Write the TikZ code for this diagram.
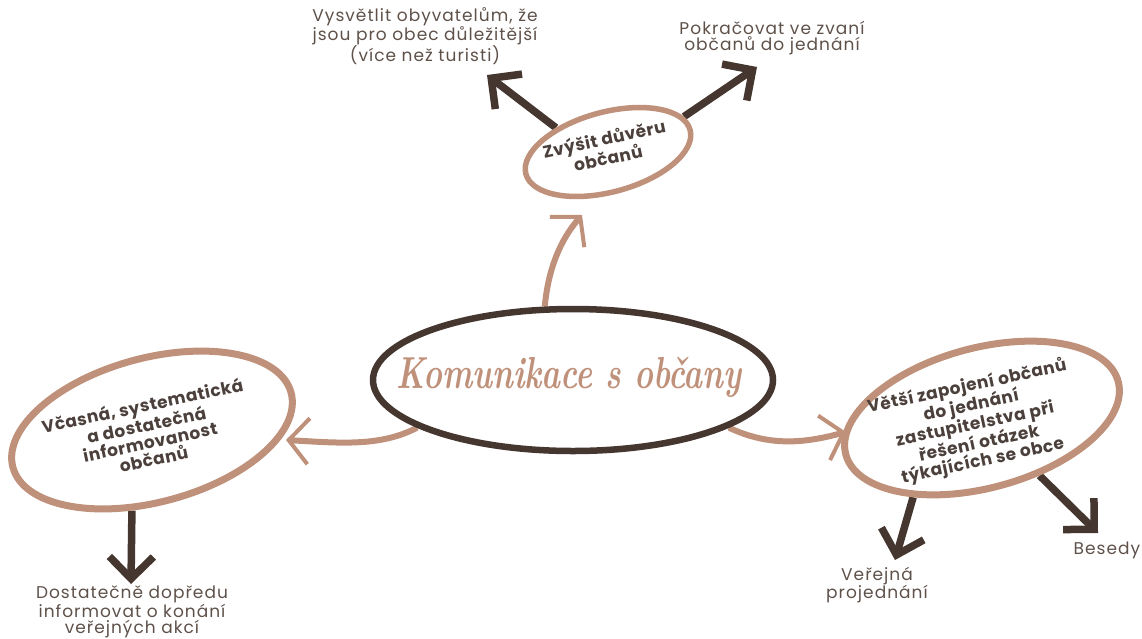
\documentclass[tikz,border=0pt]{standalone}
\usepackage{fontspec}
\newfontfamily\lab[LetterSpace=6]{Poppins}
\newfontfamily\labb[LetterSpace=3]{Poppins}
\usetikzlibrary{arrows.meta,shapes.geometric}
\definecolor{tan}{HTML}{C0917A}
\definecolor{dark}{HTML}{45372F}
\definecolor{lbl}{HTML}{5E514A}
\definecolor{boldtxt}{HTML}{4B403B}
\pgfdeclarelayer{bg}
\pgfsetlayers{bg,main}
\begin{document}
\begin{tikzpicture}[x=1pt,y=-1pt,
  ell/.style={ellipse, draw=tan, line width=7pt, inner sep=0pt},
  etext/.style={text=boldtxt, align=center, font=\labb\bfseries\fontsize{17}{17.5}\selectfont},
  label/.style={text=lbl, align=center, font=\lab\fontsize{17}{16.5}\selectfont},
  darrow/.style={draw=dark, line width=7.5pt, -{Straight Barb[length=22pt,width=44pt]}},
  tarrow/.style={draw=tan, line width=6pt, -{Straight Barb[length=20pt,width=46pt,line width=4pt]}}
]
\useasboundingbox (0,0) rectangle (1142,638);

% central ellipse
\node[ellipse, draw=dark, line width=6.5pt, minimum width=400pt, minimum height=142pt, inner sep=0pt] (C) at (573,380) {};
\node[text=tan, font=\fontsize{32}{32}\selectfont\bfseries\itshape, yscale=1.4] (CT) at (569,377) {Komunikace s občany};

% satellite ellipses
\node[ell, line width=5.5pt, rotate=15, minimum width=170pt, minimum height=80pt] (T) at (608,152) {};
\node[etext, rotate=12] (TT) at (606,148) {Zvýšit důvěru\\občanů};

\node[ell, rotate=15, minimum width=288pt, minimum height=144pt] (L) at (152,430) {};
\node[etext, rotate=12] (LT) at (148,432) {Včasná, systematická\\a dostatečná\\informovanost\\občanů};

\node[ell, rotate=15, minimum width=282pt, minimum height=140pt] (R) at (982,418) {};
\node[etext, rotate=12] (RT) at (975,424) {Větší zapojení občanů\\do jednání\\zastupitelstva při\\řešení otázek\\týkajících se obce};

% labels
\node[label] (V) at (425,36) {Vysvětlit obyvatelům, že\\jsou pro obec důležitější\\(více než turisti)};
\node[label] (P) at (772,38) {Pokračovat ve zvaní\\občanů do jednání};
\node[label] (D) at (132,612) {Dostatečně dopředu\\informovat o konání\\veřejných akcí};
\node[label] (VP) at (877,585) {Veřejná\\projednání};
\node[label] (B) at (1107,550) {Besedy};

% arrow tips
\coordinate (tTop) at (582,215);
\coordinate (tL) at (286,440);
\coordinate (tR) at (846,432);
\coordinate (aV) at (487,75);
\coordinate (aP) at (757,67);
\coordinate (aD) at (131,584);
\coordinate (aVP) at (895,560);
\coordinate (aB) at (1098,533);

\begin{pgfonlayer}{bg}
\draw[tarrow] (C.111) .. controls (548,270) and (560,240) .. (tTop);
\draw[tarrow] (C.197) .. controls (380,447) and (340,443) .. (tL);
\draw[tarrow] (C.-17) .. controls (770,447) and (805,443) .. (tR);
\draw[darrow] (T.140) -- (aV);
\draw[darrow] (T.10) -- (aP);
\draw[darrow] (L.-119) -- (aD);
\draw[darrow] (R.-146) -- (aVP);
\draw[darrow] (R.-60) -- (aB);
\end{pgfonlayer}
\end{tikzpicture}
\end{document}
